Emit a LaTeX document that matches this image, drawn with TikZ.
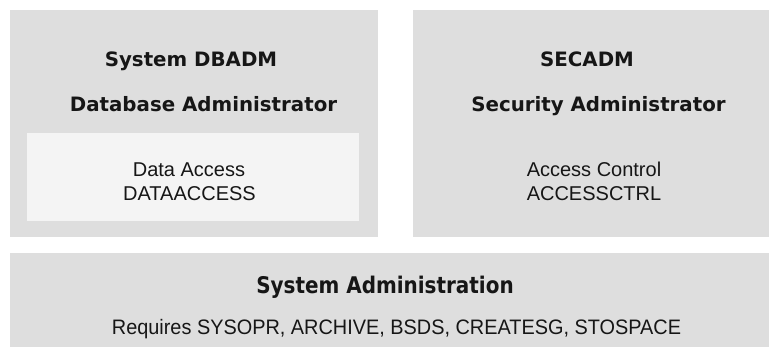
\documentclass[tikz,border=0pt]{standalone}
\usepackage{fontspec}
\setmainfont{Liberation Sans}
\newfontfamily\titlefont{DejaVu Sans}
\definecolor{outerbg}{HTML}{DEDEDE}
\definecolor{innerbg}{HTML}{F4F4F4}
\definecolor{ink}{HTML}{161616}
\tikzset{
  px/.style={x=0.75pt,y=-0.75pt},
  panel/.style={fill=outerbg,draw=none},
  subpanel/.style={fill=innerbg,draw=none},
  title/.style={anchor=base,inner sep=0pt,text=ink,font=\titlefont\bfseries\fontsize{14.85pt}{16pt}\selectfont},
  body/.style={anchor=base,inner sep=0pt,text=ink,font=\fontsize{15pt}{17pt}\selectfont},
  btitle/.style={anchor=base,inner sep=0pt,text=ink,xscale=0.87,font=\titlefont\bfseries\fontsize{17.2pt}{19pt}\selectfont},
  bbody/.style={anchor=base,inner sep=0pt,text=ink,xscale=0.95,font=\fontsize{15.7pt}{17pt}\selectfont},
}
\begin{document}
\begin{tikzpicture}[px]
\useasboundingbox (0,0) rectangle (769,347);
\fill[white] (0,0) rectangle (769,347);
% panels
\path[panel] (10,10) rectangle (378,237);
\path[subpanel] (27,133) rectangle (359,221);
\path[panel] (413,10) rectangle (769,237);
\path[panel] (10,253) rectangle (769,347);
% left panel
\node[title] (sysdbadm) at (191,66.7) {System DBADM};
\node[title] (dbadmin) at (203.5,111.7) {Database Administrator};
\node[body] (dataacc) at (189,176.7) {Data Access};
\node[body] (dataaccess) at (189.5,200) {DATAACCESS};
% right panel
\node[title] (secadm) at (587,66.7) {SECADM};
\node[title] (secadmin) at (598.5,111.5) {Security Administrator};
\node[body] (accctrl) at (594,176.7) {Access Control};
\node[body] (accessctrl) at (594,200) {ACCESSCTRL};
% bottom panel
\node[btitle] (sysadmin) at (385,293.3) {System Administration};
\node[bbody] (requires) at (396.5,334) {Requires SYSOPR, ARCHIVE, BSDS, CREATESG, STOSPACE};
\end{tikzpicture}
\end{document}
